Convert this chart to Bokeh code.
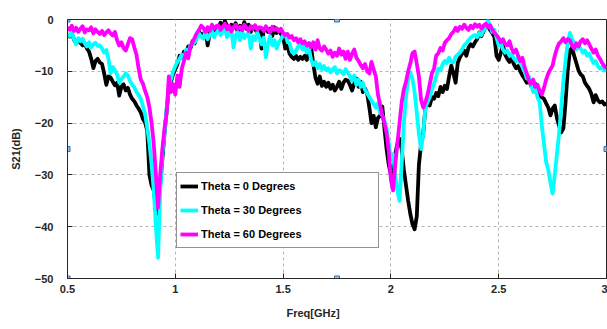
from bokeh.plotting import figure
from bokeh.models import Range1d, Legend, LegendItem, FixedTicker, Title
from bokeh.embed import file_html
from bokeh.resources import INLINE

# ---- data ----
freq_start = 0.5
freq_step = 0.01
n_points = 251
freq = [round(freq_start + freq_step * i, 2) for i in range(n_points)]

theta0 = [
    -2.8, -3.3, -2.6, -3.9, -4.6, -4.0, -4.5, -5.0, -4.6, -5.6,
    -6.2, -7.6, -9.4, -8.0, -7.6, -8.3, -8.6, -10.4, -12.6, -11.0,
    -11.2, -12.0, -12.7, -12.2, -14.7, -13.0, -12.5, -13.7, -13.2, -14.5,
    -15.3, -15.8, -16.6, -17.2, -18.0, -19.2, -19.9, -21.5, -30.0, -32.0,
    -33.0, -36.0, -37.5, -32.0, -27.0, -22.0, -17.5, -13.5, -12.0, -10.5,
    -9.6, -8.6, -7.0, -7.4, -6.2, -6.8, -5.2, -5.6, -4.2, -4.6,
    -3.2, -2.4, -2.9, -3.0, -2.0, -5.0, -2.5, -1.8, -2.6, -1.4,
    -1.5, -0.6, -1.8, -0.3, -1.2, -2.2, -1.0, -1.6, -0.7, -2.5,
    -1.2, -2.0, -0.5, -1.8, -1.0, -2.4, -1.4, -1.8, -2.6, -1.6,
    -5.6, -2.0, -1.6, -2.4, -1.8, -3.2, -1.5, -2.6, -2.0, -2.8,
    -3.4, -5.6, -5.0, -6.6, -7.2, -7.6, -7.0, -7.8, -7.2, -7.6,
    -7.0, -7.8, -4.6, -5.4, -8.6, -11.2, -12.4, -11.0, -12.8, -12.0,
    -13.0, -12.2, -13.4, -12.6, -13.7, -13.0, -12.0, -13.4, -12.2, -11.6,
    -11.8, -12.6, -13.7, -12.4, -11.4, -13.0, -12.0, -14.0, -13.3, -14.3,
    -17.0, -20.0, -18.6, -20.8, -19.0, -18.6, -16.8, -21.0, -25.0, -28.0,
    -30.0, -28.5, -26.0, -24.0, -23.0, -25.0, -29.0, -32.0, -35.0, -37.5,
    -39.5, -40.5, -38.0, -28.0, -24.0, -22.0, -17.0, -16.0, -16.6, -15.0,
    -15.3, -14.2, -14.8, -13.0, -14.0, -12.8, -13.4, -11.0, -8.9, -10.4,
    -12.2, -8.4, -7.3, -6.6, -6.0, -7.0, -5.4, -4.8, -5.2, -4.4,
    -3.8, -2.5, -3.2, -2.2, -1.6, -1.4, -2.0, -2.6, -3.4, -7.0,
    -7.8, -6.4, -5.0, -6.8, -7.6, -8.2, -7.4, -8.6, -9.4, -9.0,
    -10.0, -10.8, -11.4, -12.2, -11.6, -12.8, -13.0, -12.4, -13.6, -14.7,
    -15.0, -15.3, -16.2, -17.0, -18.5, -17.2, -16.6, -19.0, -20.5, -21.8,
    -21.0, -16.0, -10.0, -6.0, -5.5, -7.0, -8.4, -9.8, -10.6, -11.0,
    -12.2, -12.8, -13.4, -14.4, -16.0, -14.6, -15.6, -16.0, -15.8, -16.4,
    -16.2,
]

theta30 = [
    -2.7, -3.2, -2.5, -3.8, -4.8, -3.6, -4.2, -3.7, -4.6, -5.2,
    -4.4, -5.4, -4.8, -4.5, -5.1, -5.0, -5.6, -6.4, -5.9, -7.6,
    -10.4, -9.2, -9.8, -10.6, -12.2, -11.5, -11.0, -10.4, -10.8, -11.9,
    -12.6, -13.1, -14.0, -14.6, -15.3, -16.8, -18.2, -21.0, -24.0, -28.0,
    -33.0, -40.0, -46.0, -33.0, -26.0, -22.0, -17.0, -13.0, -11.5, -10.0,
    -9.0, -8.2, -7.6, -6.8, -7.8, -5.8, -6.3, -5.0, -4.7, -4.4,
    -3.6, -2.7, -3.3, -3.7, -2.4, -3.8, -3.0, -2.2, -3.4, -2.6,
    -2.0, -3.0, -2.2, -1.6, -3.4, -2.5, -2.0, -5.4, -3.0, -2.4,
    -4.0, -2.2, -3.6, -3.0, -2.6, -5.6, -3.2, -4.0, -2.5, -3.6,
    -4.8, -3.5, -7.3, -4.6, -3.2, -5.0, -4.0, -5.6, -4.4, -3.8,
    -3.0, -2.8, -4.2, -4.6, -6.2, -6.6, -6.0, -5.2, -4.8, -5.8,
    -5.0, -6.4, -5.6, -7.8, -8.8, -8.2, -9.4, -8.6, -9.6, -9.0,
    -9.8, -9.4, -10.2, -9.6, -9.2, -10.4, -9.8, -10.0, -10.6, -9.6,
    -10.2, -11.0, -11.8, -10.8, -12.6, -11.6, -13.0, -12.2, -13.6, -14.2,
    -15.0, -15.6, -16.4, -17.0, -16.2, -18.0, -18.5, -19.6, -21.0, -24.0,
    -27.0, -26.0, -30.0, -33.0, -35.0, -28.0, -20.0, -15.0, -11.5, -10.2,
    -11.5, -14.0, -18.0, -22.0, -25.0, -22.0, -17.0, -16.0, -15.0, -13.5,
    -12.4, -11.0, -9.5, -9.8, -8.6, -8.0, -8.4, -7.4, -8.2, -8.3,
    -7.2, -6.8, -6.4, -5.8, -5.0, -4.6, -4.0, -3.5, -3.2, -3.0,
    -3.4, -2.6, -3.0, -2.0, -1.8, -0.2, -1.2, -2.4, -2.0, -3.5,
    -5.0, -4.6, -5.8, -6.4, -6.0, -7.0, -6.6, -7.5, -8.0, -7.2,
    -8.4, -9.0, -10.0, -11.4, -11.0, -12.6, -14.0, -13.4, -15.0, -16.0,
    -20.5, -24.0, -27.5, -29.0, -31.5, -33.6, -30.0, -26.0, -22.0, -17.0,
    -12.0, -8.0, -4.5, -2.6, -3.8, -4.6, -5.8, -5.0, -5.6, -6.4,
    -6.0, -7.0, -6.6, -7.6, -8.4, -8.0, -9.0, -9.5, -9.2, -9.8,
    -9.8,
]

theta60 = [
    -1.5, -2.0, -1.2, -2.2, -1.6, -2.4, -1.8, -1.3, -2.5, -1.9,
    -2.1, -1.5, -2.7, -1.9, -2.4, -2.8, -2.2, -3.0, -2.5, -2.1,
    -2.7, -3.1, -2.4, -4.0, -5.0, -4.4, -5.5, -6.0, -4.8, -3.6,
    -3.8, -5.4, -6.8, -9.5, -11.6, -12.4, -13.8, -15.0, -17.0, -20.0,
    -24.0, -30.0, -36.3, -30.0, -25.0, -21.0, -18.0, -11.0, -14.0, -12.5,
    -14.5, -10.8, -13.0, -9.5, -8.0, -6.4, -7.5, -5.2, -4.4, -3.5,
    -2.6, -2.0, -1.2, -1.6, -2.4, -1.5, -2.2, -1.0, -1.8, -1.3,
    -1.1, -2.0, -1.4, -0.8, -1.9, -1.2, -2.3, -1.5, -1.0, -1.8,
    -1.4, -2.1, -1.0, -1.6, -2.2, -1.3, -1.8, -1.1, -2.0, -1.5,
    -1.6, -2.2, -1.3, -1.9, -2.5, -1.4, -2.0, -1.7, -2.3, -1.8,
    -2.6, -3.0, -2.8, -3.5, -3.2, -4.0, -3.6, -4.4, -3.8, -4.6,
    -4.2, -5.0, -4.6, -5.4, -4.4, -5.8, -4.0, -5.6, -6.0, -5.2,
    -5.8, -6.6, -6.0, -7.2, -6.4, -7.0, -5.6, -6.8, -6.2, -7.6,
    -6.2, -7.8, -6.6, -5.8, -7.4, -8.0, -8.8, -9.4, -8.6, -10.0,
    -10.4, -8.2, -9.6, -11.0, -14.5, -16.5, -18.5, -20.0, -22.0, -25.5,
    -31.0, -33.0, -28.0, -24.0, -20.0, -16.0, -13.5, -12.0, -10.0, -8.5,
    -6.5, -6.2, -8.5, -11.0, -15.5, -17.0, -16.0, -14.5, -12.5, -10.4,
    -9.5, -7.0, -6.5, -5.5, -6.0, -4.5, -4.0, -3.6, -2.8, -2.4,
    -1.6, -2.2, -1.4, -1.8, -1.0, -1.6, -2.0, -1.2, -1.7, -0.9,
    -1.4, -1.0, -1.8, -1.2, -0.8, -1.5, -1.1, -1.9, -2.6, -3.0,
    -3.6, -4.4, -3.8, -4.8, -5.0, -4.2, -5.6, -6.4, -5.8, -7.0,
    -8.0, -7.4, -9.2, -10.4, -11.8, -12.4, -11.6, -13.0, -12.6, -13.8,
    -14.5, -13.2, -11.6, -10.4, -9.6, -8.9, -7.0, -5.6, -4.6, -4.2,
    -3.6, -4.4, -3.8, -4.0, -5.0, -5.6, -4.6, -5.2, -4.2, -3.8,
    -4.6, -4.0, -4.8, -5.6, -6.4, -5.8, -7.0, -7.6, -8.4, -9.0,
    -9.4,
]

series_labels = ["Theta = 0 Degrees", "Theta = 30 Degrees", "Theta = 60 Degrees"]
series_colors = ["#000000", "#00ffff", "#ff00ff"]
x_ticks = [0.5, 1, 1.5, 2, 2.5, 3]
y_ticks = [-50, -40, -30, -20, -10, 0]
x_label = "Freq[GHz]"
y_label = "S21(dB)"

FONT = "Liberation Sans"
AX = "#262626"

p = figure(width=607, height=329, output_backend="svg", toolbar_location=None,
           x_range=Range1d(0.5, 3.0), y_range=Range1d(-50, 0),
           min_border_left=67, min_border_right=1, min_border_top=19,
           min_border_bottom=51, background_fill_color="white",
           border_fill_color="white")
p.outline_line_color = AX
p.outline_line_width = 1

for ax, ticks in ((p.xaxis[0], x_ticks), (p.yaxis[0], y_ticks)):
    ax.ticker = FixedTicker(ticks=ticks)
    ax.major_tick_in = 5
    ax.major_tick_out = 0
    ax.minor_tick_line_color = None
    ax.axis_line_color = AX
    ax.major_tick_line_color = AX
    ax.major_label_text_font = FONT
    ax.major_label_text_font_style = "bold"
    ax.major_label_text_font_size = "11px"
    ax.major_label_text_color = AX

p.xaxis[0].major_label_standoff = 6
p.yaxis[0].major_label_standoff = 14
p.yaxis[0].axis_label = y_label
p.yaxis[0].axis_label_text_font = FONT
p.yaxis[0].axis_label_text_font_style = "bold"
p.yaxis[0].axis_label_text_font_size = "11px"
p.yaxis[0].axis_label_text_color = AX
p.yaxis[0].axis_label_standoff = 10

for g, ticks in ((p.xgrid[0], x_ticks), (p.ygrid[0], y_ticks)):
    g.ticker = FixedTicker(ticks=ticks)
    g.grid_line_color = "#b4b4b4"
    g.grid_line_dash = "3 3"
    g.grid_line_width = 1

renderers = []
for ys, col in zip((theta0, theta30, theta60), series_colors):
    r = p.line(freq, ys, line_color=col, line_width=3.8, line_join="round")
    renderers.append(r)

# selection handles (figure-edit markers) on the axes box
xr0, xr1 = p.x_range.start, p.x_range.end
yr0, yr1 = p.y_range.start, p.y_range.end
xm, ym = (xr0 + xr1) / 2, (yr0 + yr1) / 2
p.scatter([xr0, xr0, xr0, xm, xm, xr1], [yr1, ym, yr0, yr1, yr0, ym], marker="square",
          size=5, fill_color="#9ec3ea", line_color="#2f6fb5", line_width=1)

legend = Legend(items=[LegendItem(label=l, renderers=[r]) for l, r in zip(series_labels, renderers)],
                location=(109, 30))
legend.label_text_font = FONT
legend.label_text_font_style = "bold"
legend.label_text_font_size = "11px"
legend.label_text_color = "#000000"
legend.glyph_width = 18
legend.glyph_height = 20
legend.label_height = 20
legend.spacing = 4
legend.padding = 3
legend.margin = 0
legend.label_standoff = 3
legend.label_width = 174
legend.border_line_color = AX
legend.border_line_width = 1
legend.background_fill_color = "white"
legend.background_fill_alpha = 1
p.add_layout(legend)

xt = Title(text=x_label, align="left", offset=219, text_font=FONT, text_font_style="bold",
           text_font_size="11px", text_color=AX, standoff=18)
p.add_layout(xt, "below")

open("out.html", "w").write(file_html(p, INLINE))
